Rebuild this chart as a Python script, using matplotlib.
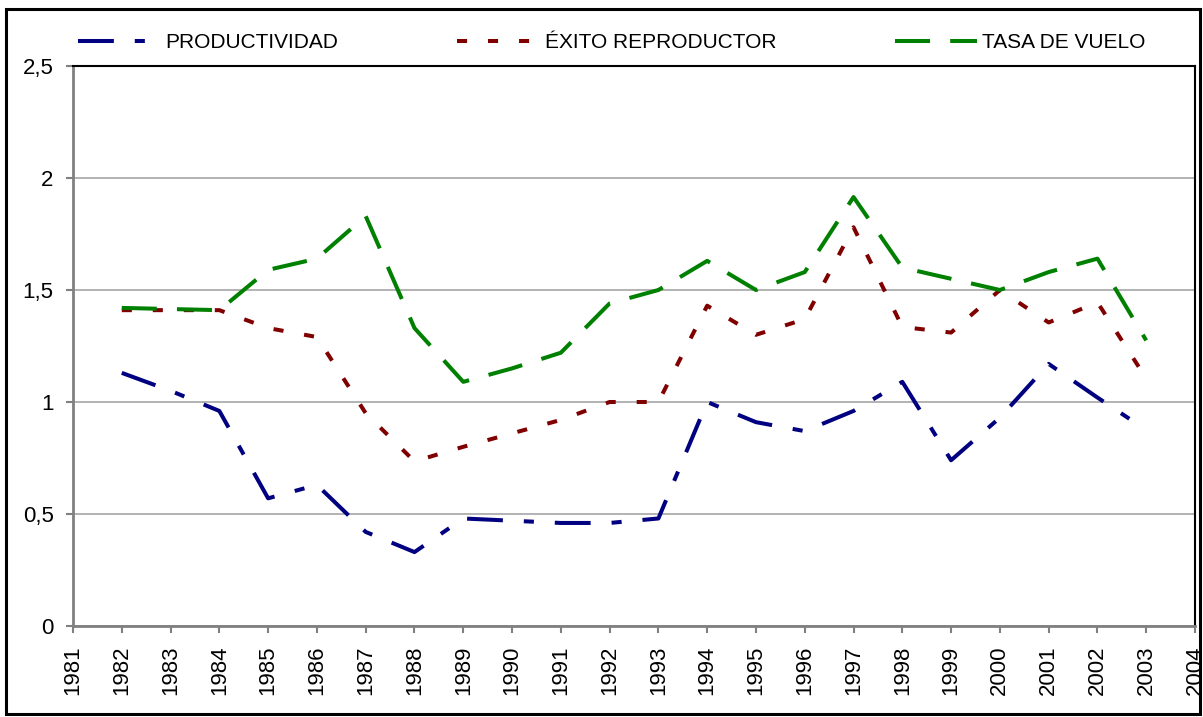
"""
Productividad, exito reproductor y tasa de vuelo, 1982-2003.
"""

import numpy as np
import matplotlib
matplotlib.use('Agg')
import matplotlib.pyplot as plt
from matplotlib.patches import Rectangle
from matplotlib.ticker import FuncFormatter

years = [1982, 1983, 1984, 1985, 1986, 1987, 1988, 1989, 1990, 1991, 1992,
         1993, 1994, 1995, 1996, 1997, 1998, 1999, 2000, 2001, 2002, 2003]

productividad = [1.13, 1.05, 0.96, 0.57, 0.63, 0.42, 0.33, 0.48, 0.47, 0.46, 0.46,
                 0.48, 1.00, 0.91, 0.87, 0.96, 1.09, 0.74, 0.93, 1.17, 1.02, 0.875]

exito = [1.41, 1.41, 1.41, 1.33, 1.29, 0.95, 0.735, 0.80, 0.86, 0.92, 1.00,
         1.00, 1.43, 1.30, 1.37, 1.78, 1.335, 1.31, 1.50, 1.355, 1.445, 1.105]

tasa_vuelo = [1.42, 1.415, 1.41, 1.59, 1.64, 1.83, 1.33, 1.09, 1.15, 1.22, 1.44,
              1.50, 1.63, 1.50, 1.58, 1.915, 1.60, 1.55, 1.50, 1.58, 1.64, 1.275]

labels = ['PRODUCTIVIDAD', 'ÉXITO REPRODUCTOR', 'TASA DE VUELO']

xticks = np.arange(1981, 2005)
yticks = [0, 0.5, 1, 1.5, 2, 2.5]


def make_plot():
    """
    Draw the three series and save the figure as out.png.
    """
    plt.rcParams['font.family'] = ['Liberation Sans', 'DejaVu Sans']

    W, H = 1203, 717
    fig = plt.figure(figsize=(W/100, H/100), dpi=100)
    ax = fig.add_axes([73/W, 1-626/H, (1195-73)/W, (626-66)/H])

    lw = 2.9
    ax.plot(years, productividad, color='#000080', lw=lw,
            dashes=(8.9, 5.2, 2.5, 5.2), label=labels[0], zorder=3)
    ax.plot(years, exito, color='#800000', lw=lw,
            dashes=(2.5, 5.2), label=labels[1], zorder=3)
    ax.plot(years, tasa_vuelo, color='#008000', lw=lw,
            dashes=(8.7, 5.0), label=labels[2], zorder=3)

    ax.set_xlim(1981, 2004)
    ax.set_ylim(0, 2.5)
    ax.set_xticks(xticks)
    ax.set_yticks(yticks)
    ax.yaxis.set_major_formatter(FuncFormatter(lambda v, p: f'{v:g}'.replace('.', ',')))
    ax.tick_params(axis='x', labelrotation=90, labelsize=16, length=5,
                   width=1.5, color='#808080', pad=9)
    ax.tick_params(axis='y', labelsize=16, length=5, width=1.5,
                   color='#808080', pad=9)

    ax.grid(axis='y', color='#a6a6a6', lw=1.2)
    ax.set_axisbelow(True)

    for side in ('left', 'bottom'):
        ax.spines[side].set_color('#808080')
        ax.spines[side].set_linewidth(2)
    for side in ('top', 'right'):
        ax.spines[side].set_color('black')
        ax.spines[side].set_linewidth(1.5)

    fig.legend(loc='center left', bbox_to_anchor=(78/W, 1-43/H), ncol=3,
               frameon=False, fontsize=15, handlelength=3.95, handletextpad=0.25,
               columnspacing=5.7, borderpad=0, borderaxespad=0)

    fig.patches.append(Rectangle((6/W, 3/H), (W-9)/W, (H-12)/H,
                                 transform=fig.transFigure, fill=False,
                                 edgecolor='black', lw=2.2))

    fig.savefig('out.png', dpi=100)


if __name__ in ('__main__'):
    make_plot()
